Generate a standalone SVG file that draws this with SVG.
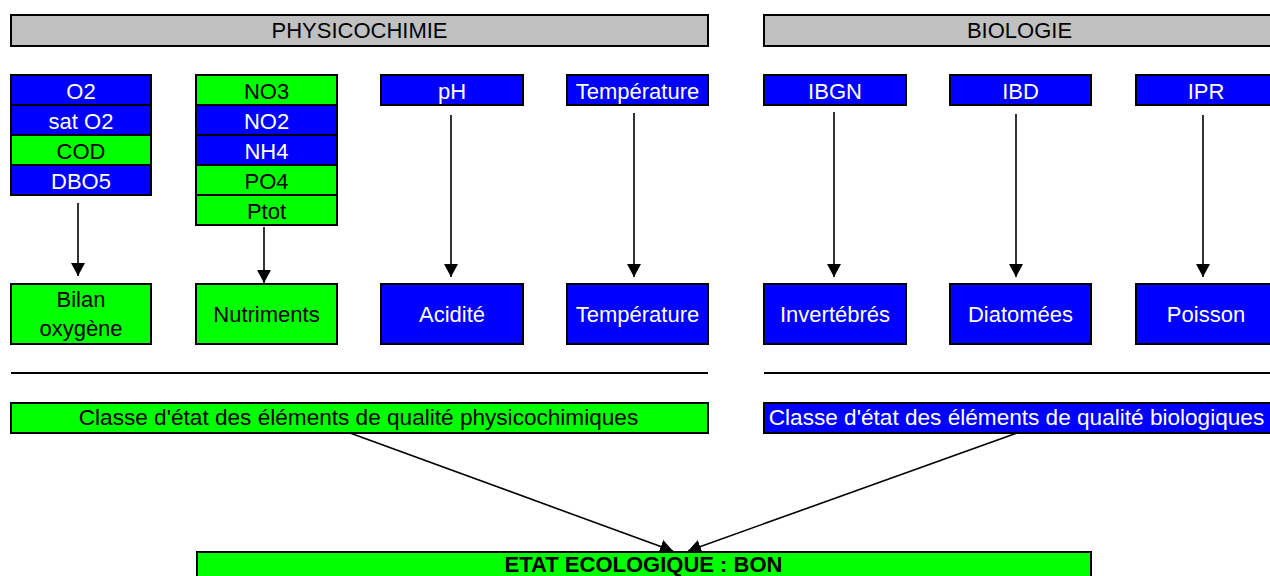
<svg xmlns="http://www.w3.org/2000/svg" width="1270" height="576" viewBox="0 0 1270 576">
<style>
text{font-family:"Liberation Sans",Arial,sans-serif;font-size:22px;text-anchor:middle}
.big{font-size:22.6px}
.hdr{fill:#c0c0c0;stroke:#000;stroke-width:2}
.b{fill:#0000ff;stroke:#000;stroke-width:2}
.g{fill:#00ff00;stroke:#000;stroke-width:2}
.tw{fill:#fff}
.tb{fill:#000}
.ln{stroke:#000;stroke-width:1.6;fill:none}
.sep{stroke:#000;stroke-width:2}
</style>
<defs>
<marker id="ah" markerUnits="userSpaceOnUse" markerWidth="14" markerHeight="14" refX="13" refY="7" orient="auto">
<path d="M0,0 L13,7 L0,14 z" fill="#000"/>
</marker>
</defs>
<rect width="1270" height="576" fill="#fff"/>

<g id="hdr-physico"><rect class="hdr" x="11" y="15" width="697" height="31"/><text class="tb" x="359.5" y="38">PHYSICOCHIMIE</text></g>
<g id="hdr-bio"><rect class="hdr" x="764" y="15" width="520" height="31"/><text class="tb" x="1019.5" y="38">BIOLOGIE</text></g>

<g id="oxy-params">
<rect class="b" x="11" y="75" width="140" height="30"/><text class="tw" x="81" y="99">O2</text>
<rect class="b" x="11" y="105" width="140" height="30"/><text class="tw" x="81" y="129">sat O2</text>
<rect class="g" x="11" y="135" width="140" height="30"/><text class="tb" x="81" y="159">COD</text>
<rect class="b" x="11" y="165" width="140" height="30"/><text class="tw" x="81" y="189">DBO5</text>
</g>
<g id="nutri-params">
<rect class="g" x="196" y="75" width="141" height="30"/><text class="tb" x="266.5" y="99">NO3</text>
<rect class="b" x="196" y="105" width="141" height="30"/><text class="tw" x="266.5" y="129">NO2</text>
<rect class="b" x="196" y="135" width="141" height="30"/><text class="tw" x="266.5" y="159">NH4</text>
<rect class="g" x="196" y="165" width="141" height="30"/><text class="tb" x="266.5" y="189">PO4</text>
<rect class="g" x="196" y="195" width="141" height="30"/><text class="tb" x="266.5" y="219">Ptot</text>
</g>
<g id="ph"><rect class="b" x="381" y="75" width="142" height="30"/><text class="tw" x="452" y="99">pH</text></g>
<g id="temp-param"><rect class="b" x="567" y="75" width="141" height="30"/><text class="tw" x="637.5" y="99">Température</text></g>
<g id="ibgn"><rect class="b" x="764" y="75" width="142" height="30"/><text class="tw" x="835" y="99">IBGN</text></g>
<g id="ibd"><rect class="b" x="950" y="75" width="141" height="30"/><text class="tw" x="1020.5" y="99">IBD</text></g>
<g id="ipr"><rect class="b" x="1136" y="75" width="140" height="30"/><text class="tw" x="1206" y="99">IPR</text></g>

<g id="bilan"><rect class="g" x="11" y="284" width="140" height="60"/><text class="tb" x="81" y="307">Bilan</text><text class="tb" x="81" y="336">oxygène</text></g>
<g id="nutriments"><rect class="g" x="196" y="284" width="141" height="60"/><text class="tb" x="266.5" y="322">Nutriments</text></g>
<g id="acidite"><rect class="b" x="381" y="284" width="142" height="60"/><text class="tw" x="452" y="322">Acidité</text></g>
<g id="temperature"><rect class="b" x="567" y="284" width="141" height="60"/><text class="tw" x="637.5" y="322">Température</text></g>
<g id="invertebres"><rect class="b" x="764" y="284" width="142" height="60"/><text class="tw" x="835" y="322">Invertébrés</text></g>
<g id="diatomees"><rect class="b" x="950" y="284" width="141" height="60"/><text class="tw" x="1020.5" y="322">Diatomées</text></g>
<g id="poisson"><rect class="b" x="1136" y="284" width="140" height="60"/><text class="tw" x="1206" y="322">Poisson</text></g>

<g id="separators">
<line class="sep" x1="11" y1="373" x2="708" y2="373"/>
<line class="sep" x1="764" y1="373" x2="1270" y2="373"/>
</g>

<g id="classe-physico"><rect class="g" x="11" y="403" width="697" height="30"/><text class="tb big" x="358.5" y="425">Classe d'état des éléments de qualité physicochimiques</text></g>
<g id="classe-bio"><rect class="b" x="764" y="403" width="510" height="30"/><text class="tw big" x="1016.5" y="425">Classe d'état des éléments de qualité biologiques</text></g>

<g id="etat"><rect class="g" x="197" y="552" width="894" height="34"/><text class="tb" x="643.5" y="572" font-weight="bold" font-size="22.7px">ETAT ECOLOGIQUE : BON</text></g>

<g id="connectors">
<line class="ln" x1="78" y1="203" x2="78" y2="276" marker-end="url(#ah)"/>
<line class="ln" x1="264" y1="227" x2="264" y2="283" marker-end="url(#ah)"/>
<line class="ln" x1="451" y1="115" x2="451" y2="277" marker-end="url(#ah)"/>
<line class="ln" x1="634" y1="113" x2="634" y2="277" marker-end="url(#ah)"/>
<line class="ln" x1="834" y1="112" x2="834" y2="277" marker-end="url(#ah)"/>
<line class="ln" x1="1016" y1="114" x2="1016" y2="277" marker-end="url(#ah)"/>
<line class="ln" x1="1203" y1="115" x2="1203" y2="277" marker-end="url(#ah)"/>
<line class="ln" x1="350" y1="433" x2="673" y2="551" marker-end="url(#ah)"/>
<line class="ln" x1="1017" y1="433" x2="688" y2="551" marker-end="url(#ah)"/>
</g>
</svg>
